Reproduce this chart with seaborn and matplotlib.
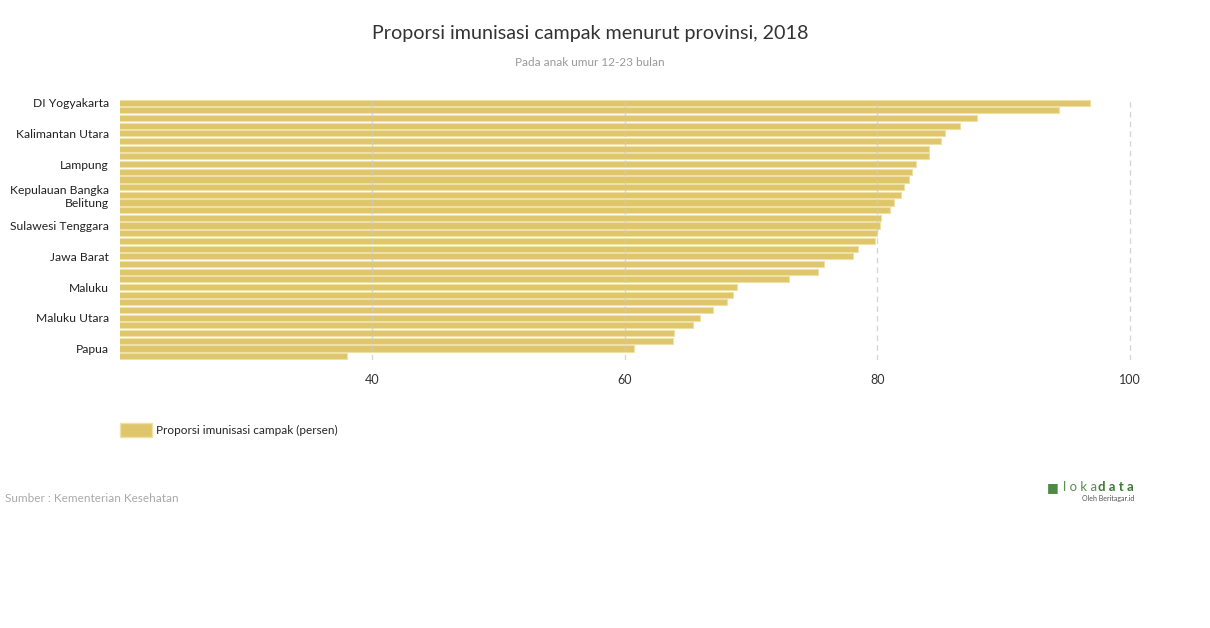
import numpy as np
import matplotlib.pyplot as plt
import pandas as pd
import seaborn as sns

### data ###
provinces = ["DI Yogyakarta", "Bali", "Jawa Tengah", "Jawa Timur", "Kalimantan Utara",
             "DKI Jakarta", "Kalimantan Timur", "Bengkulu", "Lampung", "Sulawesi Utara",
             "Gorontalo", "Jambi", "Kepulauan Bangka\nBelitung", "Nusa Tenggara Barat",
             "Sulawesi Selatan", "Kalimantan Tengah", "Sulawesi Tenggara", "Nusa Tenggara Timur",
             "Sulawesi Barat", "Kalimantan Selatan", "Jawa Barat", "Kepulauan Riau",
             "Sumatera Selatan", "Banten", "Maluku", "Sulawesi Tengah", "Kalimantan Barat",
             "Papua Barat", "Maluku Utara", "Sumatera Barat", "Riau", "Sumatera Utara",
             "Papua", "Aceh"]
values = [96.9, 94.4, 87.9, 86.6, 85.4, 85.1, 84.1, 84.1, 83.1, 82.8,
          82.5, 82.1, 81.9, 81.3, 81.0, 80.3, 80.2, 80.0, 79.8, 78.5,
          78.1, 75.8, 75.3, 73.0, 68.9, 68.6, 68.1, 67.0, 66.0, 65.4,
          63.9, 63.8, 60.7, 38.0]
x_ticks = [40, 60, 80, 100]
series_name = "Proporsi imunisasi campak (persen)"

BAR = "#dfc66a"
EDGE = "#efe0a6"

sns.set_style("white")
plt.rcParams['font.family'] = ['Lato', 'DejaVu Sans']

df = pd.DataFrame({"prov": provinces, "val": values})

fig = plt.figure(figsize=(12.1, 6.28), dpi=100)
ax = fig.add_axes([120/1210, 1-360/628, 1060/1210, 262/628])

sns.barplot(data=df, y="prov", x="val", orient="h", color=BAR, width=0.8,
            edgecolor=EDGE, linewidth=0.8, saturation=1, ax=ax)

ax.set_xlim(20, 104)
ax.set_ylim(len(values) - 0.5, -0.6)
ax.set_xticks(x_ticks)
ax.set_xticklabels([str(t) for t in x_ticks], fontsize=9, color="#333333")
shown = list(range(0, len(provinces), 4))
ax.set_yticks(shown)
ax.set_yticklabels([provinces[i] for i in shown], fontsize=8.7, color="#222222",
                   linespacing=1.2)
ax.tick_params(axis="x", length=0, pad=10)
ax.tick_params(axis="y", length=0, pad=8)
ax.set_xlabel("")
ax.set_ylabel("")
for s in ax.spines.values():
    s.set_visible(False)
ax.set_axisbelow(False)
ax.xaxis.grid(True, color="#cccccc", linestyle=(0, (4, 3)), linewidth=1, alpha=0.8)
ax.yaxis.grid(False)

fig.text(590/1210, 1-34/628, "Proporsi imunisasi campak menurut provinsi, 2018",
         ha="center", va="center", fontsize=14.2, color="#333333")
fig.text(590/1210, 1-63/628, "Pada anak umur 12-23 bulan",
         ha="center", va="center", fontsize=8.5, color="#999999")

handle = plt.Rectangle((0, 0), 1, 1, facecolor=BAR, edgecolor=EDGE)
fig.legend([handle], [series_name], loc="center left",
           bbox_to_anchor=(109/1210, 1-430/628), frameon=False, fontsize=8.5,
           handlelength=2.7, handleheight=1.4, handletextpad=0.4)

fig.text(5/1210, 1-498/628, "Sumber : Kementerian Kesehatan",
         ha="left", va="center", fontsize=8.5, color="#aaaaaa")

# logo
fig.text(1063/1210, 1-487/628, "l o k a", ha="left", va="center", fontsize=9.5,
         color="#5a8f4e")
fig.text(1098/1210, 1-487/628, "d a t a", ha="left", va="center", fontsize=9.5,
         color="#3e7a36", fontweight="bold")
fig.text(1134/1210, 1-498/628, "Oleh Beritagar.id", ha="right", va="center",
         fontsize=5, color="#555555")
fig.text(1053/1210, 1-487/628, "\u25A0", ha="center", va="center", fontsize=9,
         color="#4e8a44")

fig.savefig("out.png", dpi=100)
